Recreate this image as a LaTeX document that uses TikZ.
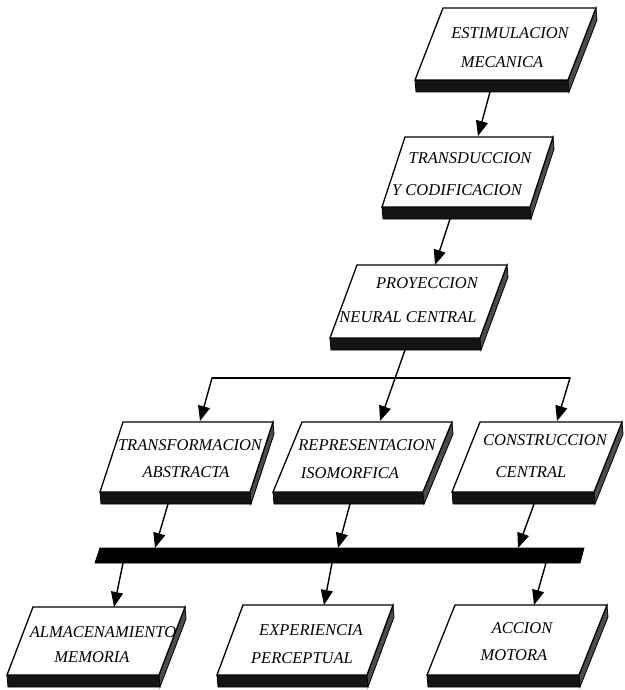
\documentclass[tikz,border=0pt]{standalone}
\usepackage{fontspec}
\setmainfont{Liberation Serif}
\usetikzlibrary{calc,arrows.meta}
\tikzset{
  face/.style={fill=white,draw=black,line width=1.3pt,line join=miter},
  band/.style={fill=black!92,draw=black,line width=0.8pt},
  side/.style={fill=black!70,draw=black,line width=0.8pt},
  lbl/.style={inner sep=0pt,align=center},
  conn/.style={draw=black,line width=1.4pt,-{Triangle[length=15pt,width=12pt]}},
  wire/.style={draw=black,line width=1.4pt},
  barfill/.style={fill=black,draw=black,line width=0.8pt}
}
% name, blx, bly, w, h, skew
\newcommand{\slab}[6]{%
  \coordinate (#1-D) at (#2,#3);
  \coordinate (#1-C) at (#2+#4,#3);
  \coordinate (#1-B) at (#2+#4+#6,#3-#5);
  \coordinate (#1-A) at (#2+#6,#3-#5);
  \path[band] (#1-D) -- (#1-C) -- ($(#1-C)+(1,12)$) -- ($(#1-D)+(1,12)$) -- cycle;
  \path[side] (#1-C) -- (#1-B) -- ($(#1-B)+(1,12)$) -- ($(#1-C)+(1,12)$) -- cycle;
  \path[face] (#1-A) -- (#1-B) -- (#1-C) -- (#1-D) -- cycle;
}
% name, x, y, shift, skip, line1, line2
\newcommand{\boxlabel}[7]{%
  \node[lbl,font=\fontsize{16.5}{#5}\selectfont\itshape] (#1) at (#2,#3) {\hspace*{#4pt}#6\\#7};
}
\begin{document}
\begin{tikzpicture}[x=1pt,y=-1pt]
\useasboundingbox (0,0) rectangle (624,690);
\fill[white] (0,0) rectangle (624,690);

% boxes
\slab{E}{415}{80}{153}{72}{28}
\slab{TR}{382}{207}{148}{70}{23}
\slab{PR}{330}{338}{150}{73}{27}
\slab{TA}{100}{492}{150}{70}{23}
\slab{RI}{273}{492}{150}{70}{29}
\slab{CC}{452}{492}{142}{70}{28}
\slab{AM}{7}{675}{152}{68}{26}
\slab{EP}{217}{675}{150}{70}{26}
\slab{AC}{427}{675}{152}{70}{28}

% labels
\boxlabel{E-l}{502}{47.5}{16}{29}{ESTIMULACION}{MECANICA}
\boxlabel{TR-l}{457}{174}{26}{32}{TRANSDUCCION}{Y CODIFICACION}
\boxlabel{PR-l}{408}{300}{38}{34}{PROYECCION}{NEURAL CENTRAL}
\boxlabel{TA-l}{186}{458.5}{8}{27}{TRANSFORMACION}{ABSTRACTA}
\boxlabel{RI-l}{350}{459}{34}{28}{REPRESENTACION}{ISOMORFICA}
\boxlabel{CC-l}{531}{456}{28}{32}{CONSTRUCCION}{CENTRAL}
\boxlabel{AM-l}{92}{644.5}{22}{25}{ALMACENAMIENTO}{MEMORIA}
\boxlabel{EP-l}{302}{644}{18}{28}{EXPERIENCIA}{PERCEPTUAL}
\boxlabel{AC-l}{514}{641.5}{16}{27}{ACCION}{MOTORA}

% bar
\coordinate (bar-A) at (100,548);
\coordinate (bar-B) at (584,548);
\coordinate (bar-C) at (580,563);
\coordinate (bar-D) at (95,563);
\path[barfill] (bar-A) -- (bar-B) -- (bar-C) -- (bar-D) -- cycle;

% connector points
\coordinate (E-out) at (490,92);
\coordinate (TR-in) at (478,136);
\coordinate (TR-out) at (450,219);
\coordinate (PR-in) at (435,265);
\coordinate (PR-out) at (405,350);
\coordinate (RI-in) at (380,421);
\coordinate (jl) at (212,378);
\coordinate (jr) at (570,378);
\coordinate (TA-in) at (200,421);
\coordinate (CC-in) at (557,421);
\coordinate (TA-out) at (168,504);
\coordinate (RI-out) at (350,504);
\coordinate (CC-out) at (534,504);
\coordinate (bar-in1) at (155,548);
\coordinate (bar-in2) at (338,548);
\coordinate (bar-in3) at (518,548);
\coordinate (bar-out1) at (123,563);
\coordinate (bar-out2) at (332,563);
\coordinate (bar-out3) at (546,563);
\coordinate (AM-in) at (114,607);
\coordinate (EP-in) at (324,605);
\coordinate (AC-in) at (534,605);

% connectors
\draw[conn] (E-out) -- (TR-in);
\draw[conn] (TR-out) -- (PR-in);
\draw[conn] (PR-out) -- (RI-in);
\draw[wire,line cap=round] (jl) -- (jr);
\draw[conn] (jl) -- (TA-in);
\draw[conn] (jr) -- (CC-in);
\draw[conn] (TA-out) -- (bar-in1);
\draw[conn] (RI-out) -- (bar-in2);
\draw[conn] (CC-out) -- (bar-in3);
\draw[conn] (bar-out1) -- (AM-in);
\draw[conn] (bar-out2) -- (EP-in);
\draw[conn] (bar-out3) -- (AC-in);
\end{tikzpicture}
\end{document}
